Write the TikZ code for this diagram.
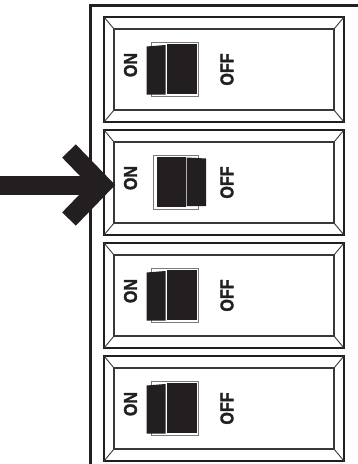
\documentclass[tikz,border=0pt]{standalone}
\usepackage{fontspec}
\setmainfont{Liberation Sans}
\newfontfamily\lblfont[BoldFeatures={FakeBold=1.6}]{Liberation Sans}
\definecolor{ink}{HTML}{231F20}
\definecolor{bev}{HTML}{3A3738}
\newcommand{\lbltxt}[1]{\scalebox{0.87}[1]{#1}}
\begin{document}
\begin{tikzpicture}[x=1pt,y=-1pt,
  frame/.style={draw=ink,line width=3pt},
  boxout/.style={draw=ink,line width=2pt},
  boxin/.style={draw=bev,line width=1.2pt},
  bevline/.style={draw=bev,line width=0.9pt},
  outline/.style={draw=ink!60,line width=0.9pt},
  piece/.style={fill=ink},
  lbl/.style={font=\lblfont\bfseries\fontsize{18.5}{18.5}\selectfont,text=ink,rotate=90,inner sep=0pt},
  bigarrow/.style={draw=ink,line width=19pt,miter limit=10}]
\useasboundingbox (0,0) rectangle (358,464);
\fill[white] (0,0) rectangle (358,464);
% panel frame
\draw[frame] (90,464) -- (90,5) -- (359,5);
% breakers
\foreach \t/\st [count=\i] in {17/off,130/on,243/off,356/off}{
  \draw[boxout] (104,\t) rectangle (344,\t+105);
  \draw[boxin] (114,\t+12) rectangle (334,\t+93);
  \draw[bevline] (104,\t) -- (114,\t+12) (344,\t) -- (334,\t+12)
                 (104,\t+105) -- (114,\t+93) (344,\t+105) -- (334,\t+93);
  \node[lbl] (on\i) at (130.5,\t+48) {\lbltxt{ON}};
  \node[lbl] (off\i) at (227,\t+52.5) {\lbltxt{OFF}};
}
% toggles OFF position
\foreach \t in {17,243,356}{
  \draw[outline] (151,\t+25.5) rectangle (198,\t+79.5);
  \fill[piece] (146.5,\t+29.5) -- (165.5,\t+28) -- (165.5,\t+77.5) -- (146.5,\t+77.5) -- cycle;
  \fill[piece] (167,\t+27) rectangle (196.5,\t+77);
}
% toggle ON position
\draw[outline] (153,155) rectangle (198,209);
\fill[piece] (157,157) rectangle (185.5,207);
\fill[piece] (186.5,157.5) -- (206,158.5) -- (206,206) -- (186.5,206) -- cycle;
% arrow
\coordinate (ashaft) at (0,185);
\coordinate (atip) at (102,185);
\coordinate (aup) at (69,151);
\coordinate (alow) at (69,219);
\draw[bigarrow] (ashaft) -- (98,185);
\draw[bigarrow] (aup) -- (atip) -- (alow);
\end{tikzpicture}
\end{document}
